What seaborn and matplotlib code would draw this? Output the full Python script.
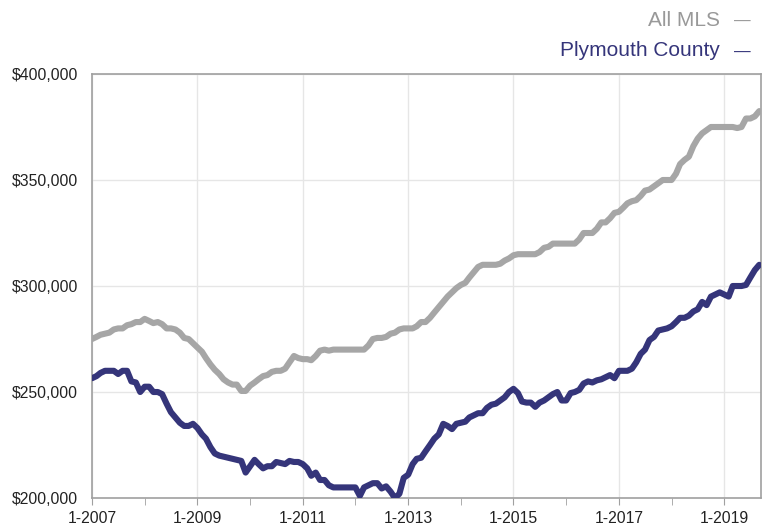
import pandas as pd
import matplotlib
matplotlib.use('Agg')
import matplotlib.pyplot as plt
import matplotlib.dates as mdates
from matplotlib.ticker import FuncFormatter, MultipleLocator, FixedLocator
import seaborn as sns

# monthly median sale price, Jan 2007 .. Sep 2019
months = pd.date_range('2007-01-01', periods=153, freq='MS')

all_mls = [
    275, 276, 277, 277.5, 278, 279.5, 280, 280, 281.5, 282, 283, 283,
    284.5, 283.5, 282.5, 283, 282, 280, 280, 279.5, 278, 275.5, 275, 273,
    271, 269, 266, 263, 260.5, 258.5, 256, 254.5, 253.5, 253.5, 250.5, 250.5,
    253, 254.5, 256, 257.5, 258, 259.5, 260, 260, 261, 264, 267, 266,
    265.5, 265.5, 265, 267, 269.5, 270, 269.5, 270, 270, 270, 270, 270,
    270, 270, 270, 272, 275, 275.5, 275.5, 276, 277.5, 278, 279.5, 280,
    280, 280, 281, 283, 283, 285, 287.5, 290, 292.5, 295, 297, 299,
    300.5, 301.5, 304, 306.5, 309, 310, 310, 310, 310, 310.5, 312, 313,
    314.5, 315, 315, 315, 315, 315, 316, 318, 318.5, 320, 320, 320,
    320, 320, 320, 322, 325, 325, 325, 327, 330, 330, 332, 334.5,
    335, 337, 339, 340, 340.5, 342.5, 345, 345.5, 347, 348.5, 350, 350,
    350, 353, 357.5, 359.5, 361, 366, 369.5, 372, 373.5, 375, 375, 375,
    375, 375, 375, 374.5, 375, 379, 379, 380, 382.5,
]

plymouth = [
    256.5, 257.5, 259, 260, 260, 260, 258.5, 260, 260, 255, 254.5, 250,
    252.5, 252.5, 250, 250, 249, 244.5, 240.5, 238, 235.5, 234, 234, 235,
    233, 230, 228, 224, 221, 220, 219.5, 219, 218.5, 218, 217.5, 212,
    215, 218, 216, 214, 215, 215, 217, 216.5, 216, 217.5, 217, 217,
    216, 214, 210.5, 212, 208.5, 208.5, 206, 205, 205, 205, 205, 205,
    205, 201, 205, 206, 207, 207, 204.5, 205.5, 203, 200, 202, 209.5,
    211, 216, 218.5, 219, 222, 225, 228, 230, 235, 234, 232.5, 235,
    235.5, 236, 238, 239, 240, 240, 242.5, 244, 244.5, 246, 247.5, 250,
    251.5, 249.5, 245.5, 245, 245, 243, 245, 246, 247.5, 249, 250, 246,
    246, 249.5, 250, 251, 254, 255, 254.5, 255.5, 256, 257, 258, 256.5,
    260, 260, 260, 261, 264, 268, 270, 274.5, 276, 279, 279.5, 280,
    281, 283, 285, 285, 286, 288, 289, 292.5, 291, 295, 296, 297,
    296, 295, 300, 300, 300, 300.5, 304, 307.5, 310,
]

label_years = [2007, 2009, 2011, 2013, 2015, 2017, 2019]

series_names = ['All MLS', 'Plymouth County']
colors = {'All MLS': '#a6a6a6', 'Plymouth County': '#35357a'}

df = pd.DataFrame({
    'Month': list(months) * 2,
    'Price': [v * 1000 for v in all_mls] + [v * 1000 for v in plymouth],
    'Series': [series_names[0]] * len(all_mls) + [series_names[1]] * len(plymouth),
})

sns.set_style('white')
plt.rcParams['font.family'] = ['Liberation Sans', 'DejaVu Sans']

fig = plt.figure(figsize=(7.7, 5.27), dpi=100)
ax = fig.add_axes([0.1195, 0.055, 0.8688, 0.8046])

sns.lineplot(data=df, x='Month', y='Price', hue='Series', palette=colors,
             linewidth=4.4, legend=False, ax=ax, zorder=3)

ax.set_xlim(pd.Timestamp('2007-01-01'), pd.Timestamp('2019-09-13'))
ax.set_ylim(200000, 400000)

major = [mdates.date2num(pd.Timestamp(f'{y}-01-01')) for y in label_years]
ax.xaxis.set_major_locator(FixedLocator(major))
ax.xaxis.set_minor_locator(mdates.YearLocator(1))
ax.xaxis.set_major_formatter(FuncFormatter(
    lambda x, pos: f"{mdates.num2date(x).month}-{mdates.num2date(x).year}"))
ax.yaxis.set_major_locator(MultipleLocator(50000))
ax.yaxis.set_major_formatter(FuncFormatter(lambda v, pos: f"${v:,.0f}"))

ax.grid(True, which='major', color='#e6e6e6', linewidth=1)
ax.set_axisbelow(True)
for s in ax.spines.values():
    s.set_color('#a0a0a0')
    s.set_linewidth(1.2)

ax.tick_params(axis='x', which='both', direction='out', length=5, color='#a0a0a0',
               bottom=True, labelsize=11.3, labelcolor='#222222', pad=4)
ax.tick_params(axis='y', length=0, labelsize=11.3, labelcolor='#222222', pad=10)
ax.set_xlabel('')
ax.set_ylabel('')

# legend drawn as text at the top right
fig.text(720 / 770, 1 - 20 / 527, 'All MLS', ha='right', va='center',
         fontsize=15, color='#999999')
fig.text(734 / 770, 1 - 21 / 527, '\u2014', ha='left', va='center',
         fontsize=12, color='#999999')
fig.text(720 / 770, 1 - 51 / 527, 'Plymouth County', ha='right', va='center',
         fontsize=15, color='#35357a')
fig.text(734 / 770, 1 - 52 / 527, '\u2014', ha='left', va='center',
         fontsize=12, color='#35357a')

fig.savefig('out.png', dpi=100)
